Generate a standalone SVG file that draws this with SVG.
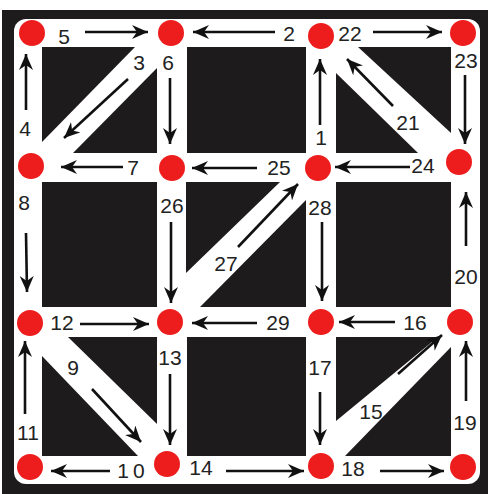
<svg xmlns="http://www.w3.org/2000/svg" width="488" height="494" viewBox="0 0 488 494">
<defs>
<style>
.cell{fill:#1e1b1c}
.dot{fill:#ee1d1d}
.lbl{font-family:"Liberation Sans",Arial,sans-serif;font-size:21px;fill:#222;text-anchor:middle;dominant-baseline:central}
.ar{stroke:#111;stroke-width:2.6;fill:none;marker-end:url(#ah)}
</style>
<marker id="ah" markerWidth="17" markerHeight="14" refX="16" refY="7" orient="auto" markerUnits="userSpaceOnUse">
<path d="M0,0 L16,7 L0,14 L5,7 z" fill="#111"/>
</marker>
</defs>
<rect x="0" y="0" width="488" height="494" fill="#fff"/>
<rect x="2" y="10" width="486" height="484" fill="#1e1b1c"/>
<rect x="14" y="19" width="466" height="465" rx="12" fill="#fff"/>
<g id="cells">
<polygon class="cell" points="42,47 135,47 42,142"/>
<polygon class="cell" points="157,68 157,153 73,153"/>
<rect class="cell" x="187" y="47" width="119" height="106"/>
<polygon class="cell" points="358,47 451,47 451,133"/>
<polygon class="cell" points="336,73 336,153 418,153"/>
<rect class="cell" x="42" y="182" width="115" height="125"/>
<polygon class="cell" points="186,182 280,182 186,273"/>
<polygon class="cell" points="306,200 306,307 200,307"/>
<rect class="cell" x="336" y="182" width="115" height="125"/>
<polygon class="cell" points="68,337 157,337 157,424"/>
<polygon class="cell" points="42,356 42,456 138,456"/>
<rect class="cell" x="187" y="337" width="119" height="119"/>
<polygon class="cell" points="336,337 438,337 336,421"/>
<polygon class="cell" points="451,347 451,456 345,456"/>
</g>
<g id="connectors">
<line class="ar" x1="85" y1="32" x2="148" y2="32"/>
<line class="ar" x1="275" y1="32" x2="193" y2="32"/>
<line class="ar" x1="373" y1="32" x2="442" y2="32"/>
<line class="ar" x1="465" y1="75" x2="465" y2="144"/>
<line class="ar" x1="393" y1="106" x2="347" y2="59"/>
<line class="ar" x1="410" y1="167" x2="335" y2="167"/>
<line class="ar" x1="320" y1="125" x2="320" y2="59"/>
<line class="ar" x1="257" y1="168" x2="192" y2="168"/>
<line class="ar" x1="128" y1="79" x2="64" y2="138"/>
<line class="ar" x1="170" y1="78" x2="170" y2="144"/>
<line class="ar" x1="26" y1="110" x2="26" y2="54"/>
<line class="ar" x1="123" y1="167" x2="61" y2="167"/>
<line class="ar" x1="26" y1="233" x2="27" y2="292"/>
<line class="ar" x1="171" y1="222" x2="171" y2="303"/>
<line class="ar" x1="238" y1="247" x2="298" y2="184"/>
<line class="ar" x1="322" y1="222" x2="322" y2="301"/>
<line class="ar" x1="257" y1="323" x2="192" y2="323"/>
<line class="ar" x1="80" y1="324" x2="149" y2="324"/>
<line class="ar" x1="92" y1="389" x2="141" y2="442"/>
<line class="ar" x1="170" y1="374" x2="170" y2="445"/>
<line class="ar" x1="25" y1="414" x2="25" y2="341"/>
<line class="ar" x1="110" y1="471" x2="51" y2="471"/>
<line class="ar" x1="226" y1="471" x2="304" y2="471"/>
<line class="ar" x1="320" y1="392" x2="320" y2="445"/>
<line class="ar" x1="380" y1="471" x2="444" y2="471"/>
<line class="ar" x1="398" y1="374" x2="442" y2="335"/>
<line class="ar" x1="466" y1="401" x2="466" y2="341"/>
<line class="ar" x1="395" y1="322" x2="339" y2="322"/>
<line class="ar" x1="466" y1="246" x2="466" y2="192"/>
</g>
<g id="n5"><circle class="dot" cx="32" cy="33" r="13"/><text class="lbl" x="64" y="36">5</text></g>
<g id="n6"><circle class="dot" cx="171" cy="33" r="13"/><text class="lbl" x="168" y="62">6</text><text class="lbl" x="139" y="62">3</text></g>
<g id="n22"><circle class="dot" cx="321" cy="36" r="13"/><text class="lbl" x="350" y="33">22</text><text class="lbl" x="289" y="33">2</text></g>
<g id="n23"><circle class="dot" cx="463" cy="33" r="13"/><text class="lbl" x="466" y="60">23</text></g>
<g id="n8"><circle class="dot" cx="31" cy="166" r="13"/><text class="lbl" x="24" y="202">8</text><text class="lbl" x="25" y="128">4</text><text class="lbl" x="133" y="167">7</text></g>
<g id="n26"><circle class="dot" cx="172" cy="168" r="13"/><text class="lbl" x="172" y="205">26</text></g>
<g id="n25"><circle class="dot" cx="318" cy="168" r="13"/><text class="lbl" x="279" y="167">25</text><text class="lbl" x="321" y="137">1</text><text class="lbl" x="320" y="207">28</text><text class="lbl" x="408" y="122">21</text></g>
<g id="n24"><circle class="dot" cx="459" cy="162" r="13"/><text class="lbl" x="423" y="165">24</text></g>
<g id="n12"><circle class="dot" cx="30" cy="323" r="13"/><text class="lbl" x="62" y="322">12</text></g>
<g id="n13"><circle class="dot" cx="170" cy="322" r="13"/><text class="lbl" x="170" y="357">13</text><text class="lbl" x="226" y="263">27</text><text class="lbl" x="73" y="367">9</text></g>
<g id="n29"><circle class="dot" cx="321" cy="322" r="13"/><text class="lbl" x="278" y="322">29</text><text class="lbl" x="320" y="367">17</text></g>
<g id="n16"><circle class="dot" cx="460" cy="322" r="13"/><text class="lbl" x="415" y="322">16</text><text class="lbl" x="466" y="276">20</text></g>
<g id="n11"><circle class="dot" cx="30" cy="467" r="13"/><text class="lbl" x="28" y="432">11</text></g>
<g id="n14"><circle class="dot" cx="167" cy="464" r="13"/><text class="lbl" x="133" y="470" letter-spacing="4">10</text><text class="lbl" x="201" y="467">14</text></g>
<g id="n18"><circle class="dot" cx="321" cy="466" r="13"/><text class="lbl" x="353" y="468">18</text><text class="lbl" x="371" y="411">15</text></g>
<g id="n19"><circle class="dot" cx="463" cy="467" r="13"/><text class="lbl" x="465" y="422">19</text></g>
</svg>
